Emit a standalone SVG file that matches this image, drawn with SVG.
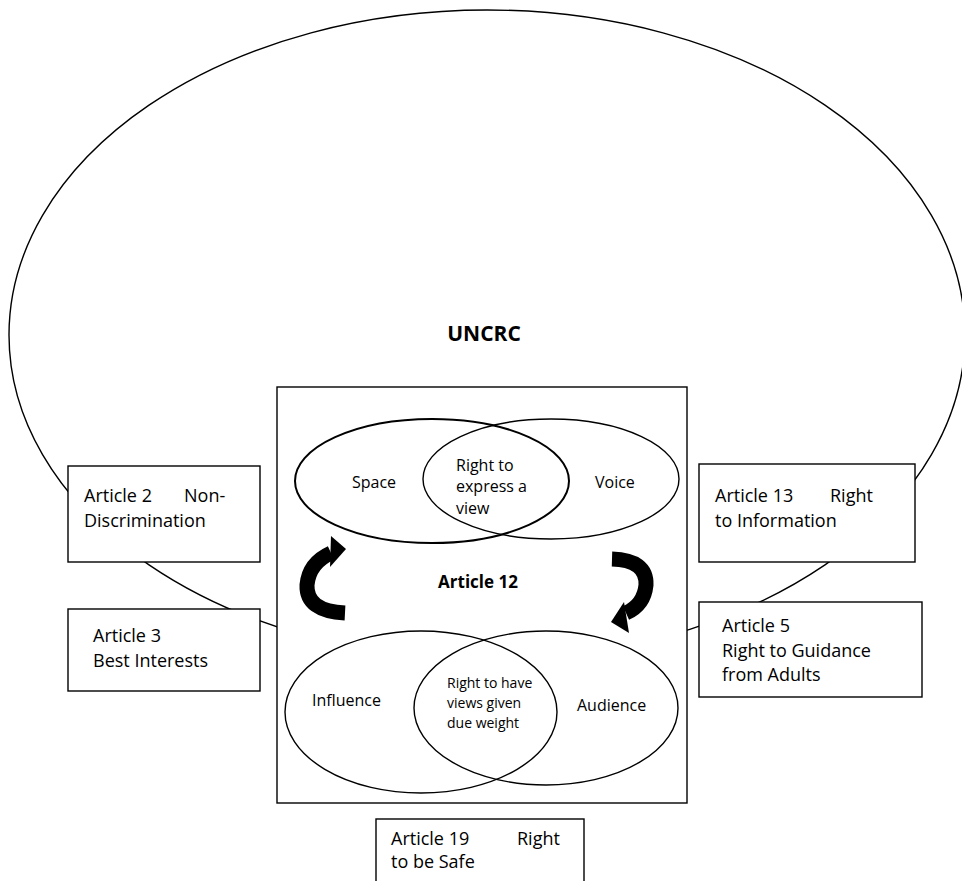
<svg xmlns="http://www.w3.org/2000/svg" width="962" height="881" viewBox="0 0 962 881">
<style>
.ln{fill:none;stroke:#000;stroke-width:1.4}
.box{fill:#fff;stroke:#000;stroke-width:1.4}
.t{font-family:"Open Sans","Liberation Sans",sans-serif;fill:#000}
.b18{font-size:18px}
.c16{font-size:16px}
.c14{font-size:14px}
.bold{font-weight:bold}
.arc{fill:none;stroke:#000;stroke-width:15}
</style>
<rect width="962" height="881" fill="#fff"/>
<g id="uncrc">
<ellipse class="ln" cx="487" cy="335" rx="478" ry="325"/>
<text class="t bold" x="484" y="341" font-size="21" text-anchor="middle">UNCRC</text>
</g>
<g id="article12">
<rect class="box" x="277" y="387" width="410" height="416"/>
<text class="t bold" x="478" y="588" font-size="17" text-anchor="middle">Article 12</text>
</g>
<g id="space">
<ellipse fill="none" stroke="#000" stroke-width="2" cx="432" cy="481" rx="137" ry="62"/>
<text class="t c16" x="352" y="488">Space</text>
</g>
<g id="voice">
<ellipse class="ln" cx="551" cy="479" rx="128" ry="60"/>
<text class="t c16" x="595" y="488">Voice</text>
</g>
<g id="express">
<text class="t c16" x="456" y="471">Right to</text>
<text class="t c16" x="456" y="492">express a</text>
<text class="t c16" x="456" y="514">view</text>
</g>
<g id="influence">
<ellipse class="ln" cx="421" cy="712" rx="136" ry="81"/>
<text class="t c16" x="312" y="706">Influence</text>
</g>
<g id="audience">
<ellipse class="ln" cx="546" cy="708" rx="132" ry="77"/>
<text class="t c16" x="577" y="711">Audience</text>
</g>
<g id="weight">
<text class="t c14" x="447" y="688">Right to have</text>
<text class="t c14" x="447" y="708">views given</text>
<text class="t c14" x="447" y="728">due weight</text>
</g>
<g id="connectors">
<path class="arc" d="M345 613 Q306 611 307 585 Q309 563 331 553"/>
<polygon points="331,536 346,549 330,567"/>
<path class="arc" d="M612 559 Q647 560 646 585 Q644 605 626 613"/>
<polygon points="624,602 611,622 629,633"/>
</g>
<g id="article2">
<rect class="box" x="68" y="466" width="192" height="96"/>
<text class="t b18" x="84" y="502">Article 2</text>
<text class="t b18" x="184" y="502">Non-</text>
<text class="t b18" x="84" y="527">Discrimination</text>
</g>
<g id="article3">
<rect class="box" x="68" y="609" width="192" height="82"/>
<text class="t b18" x="93" y="642">Article 3</text>
<text class="t b18" x="93" y="667">Best Interests</text>
</g>
<g id="article13">
<rect class="box" x="699" y="464" width="216" height="98"/>
<text class="t b18" x="715" y="502">Article 13</text>
<text class="t b18" x="830" y="502">Right</text>
<text class="t b18" x="715" y="527">to Information</text>
</g>
<g id="article5">
<rect class="box" x="699" y="602" width="223" height="95"/>
<text class="t b18" x="722" y="632">Article 5</text>
<text class="t b18" x="722" y="657">Right to Guidance</text>
<text class="t b18" x="722" y="681">from Adults</text>
</g>
<g id="article19">
<rect class="box" x="376" y="819" width="208" height="90"/>
<text class="t b18" x="391" y="845">Article 19</text>
<text class="t b18" x="517" y="845">Right</text>
<text class="t b18" x="391" y="868">to be Safe</text>
</g>
</svg>
